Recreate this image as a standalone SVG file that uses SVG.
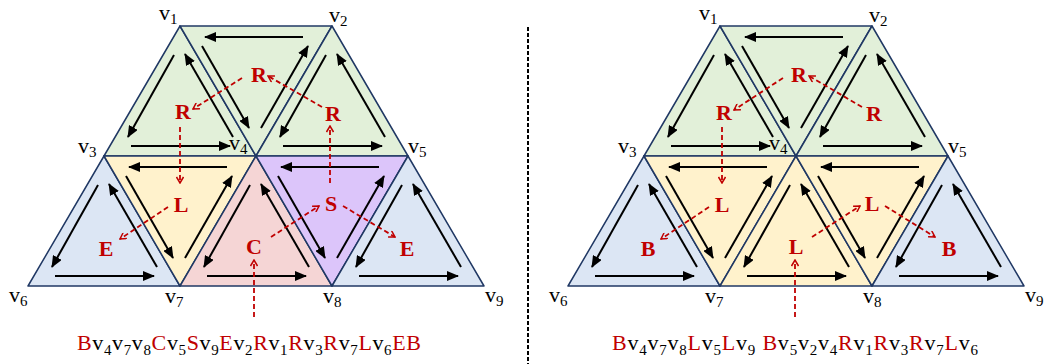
<svg xmlns="http://www.w3.org/2000/svg" xmlns:xlink="http://www.w3.org/1999/xlink" width="1044" height="364" viewBox="0 0 1044 364">
<style>
.tri{stroke:#203864;stroke-width:1.5;stroke-linejoin:round}
.g{fill:#E2F0D9}.y{fill:#FFF2CC}.b{fill:#DCE6F4}.p{fill:#F5D5D5}.u{fill:#DCC5FA}
.lab{font-family:"Liberation Serif","Times New Roman",serif;font-weight:bold;font-size:22px;fill:#C00000;text-anchor:middle}
.vx{font-family:"Liberation Serif","Times New Roman",serif;font-size:22px;fill:#000}
.vx tspan.s{font-size:15px}
.seq{font-family:"Liberation Serif","Times New Roman",serif;font-size:22px;fill:#000}
.seq tspan.s{font-size:15px}
.seq tspan.r{fill:#C00000}
.con line{stroke:#C00000;stroke-width:1.8;stroke-dasharray:5 3;marker-end:url(#rh)}
</style>
<defs>
<marker id="ah" viewBox="0 0 12 10" markerWidth="12" markerHeight="10" refX="11" refY="5" orient="auto" markerUnits="userSpaceOnUse"><path d="M0,0 L12,5 L0,10 z" fill="#000"/></marker>
<marker id="rh" viewBox="0 0 8 8" markerWidth="8" markerHeight="8" refX="7" refY="4" orient="auto" markerUnits="userSpaceOnUse"><path d="M1,0.5 L7,4 L1,7.5" fill="none" stroke="#C00000" stroke-width="1.5"/></marker>
<g id="up" stroke="#000" stroke-width="2" marker-end="url(#ah)">
<line x1="-6" y1="29" x2="-52" y2="111"/>
<line x1="-49" y1="120" x2="50" y2="120"/>
<line x1="53" y1="111" x2="5" y2="28"/>
</g>
<g id="dn" stroke="#000" stroke-width="2" marker-end="url(#ah)">
<line x1="123" y1="11" x2="25" y2="11"/>
<line x1="22" y1="20" x2="69" y2="102"/>
<line x1="81" y1="102" x2="128" y2="20"/>
</g>
</defs>
<rect width="1044" height="364" fill="#fff"/>

<!-- Left diagram -->
<g id="L-T1"><polygon class="tri g" points="180,26 104,156 256,156"/><use xlink:href="#up" href="#up" x="180" y="26"/><text class="lab" x="183" y="119">R</text></g>
<g id="L-T2"><polygon class="tri g" points="180,26 332,26 256,156"/><use xlink:href="#dn" href="#dn" x="180" y="26"/><text class="lab" x="259" y="82">R</text></g>
<g id="L-T3"><polygon class="tri g" points="332,26 256,156 408,156"/><use xlink:href="#up" href="#up" x="332" y="26"/><text class="lab" x="333" y="121">R</text></g>
<g id="L-T4"><polygon class="tri b" points="104,156 28,286 180,286"/><use xlink:href="#up" href="#up" x="104" y="156"/><text class="lab" x="106" y="256">E</text></g>
<g id="L-T5"><polygon class="tri y" points="104,156 256,156 180,286"/><use xlink:href="#dn" href="#dn" x="104" y="156"/><text class="lab" x="181" y="212">L</text></g>
<g id="L-T6"><polygon class="tri p" points="256,156 180,286 332,286"/><use xlink:href="#up" href="#up" x="256" y="156"/><text class="lab" x="254" y="254">C</text></g>
<g id="L-T7"><polygon class="tri u" points="256,156 408,156 332,286"/><use xlink:href="#dn" href="#dn" x="256" y="156"/><text class="lab" x="331" y="211">S</text></g>
<g id="L-T8"><polygon class="tri b" points="408,156 332,286 484,286"/><use xlink:href="#up" href="#up" x="408" y="156"/><text class="lab" x="407" y="256">E</text></g>

<!-- Right diagram -->
<g id="R-T1"><polygon class="tri g" points="720,26 644,156 796,156"/><use xlink:href="#up" href="#up" x="720" y="26"/><text class="lab" x="724" y="120">R</text></g>
<g id="R-T2"><polygon class="tri g" points="720,26 872,26 796,156"/><use xlink:href="#dn" href="#dn" x="720" y="26"/><text class="lab" x="799" y="82">R</text></g>
<g id="R-T3"><polygon class="tri g" points="872,26 796,156 948,156"/><use xlink:href="#up" href="#up" x="872" y="26"/><text class="lab" x="874" y="121">R</text></g>
<g id="R-T4"><polygon class="tri b" points="644,156 568,286 720,286"/><use xlink:href="#up" href="#up" x="644" y="156"/><text class="lab" x="648" y="256">B</text></g>
<g id="R-T5"><polygon class="tri y" points="644,156 796,156 720,286"/><use xlink:href="#dn" href="#dn" x="644" y="156"/><text class="lab" x="722" y="212">L</text></g>
<g id="R-T6"><polygon class="tri y" points="796,156 720,286 872,286"/><use xlink:href="#up" href="#up" x="796" y="156"/><text class="lab" x="796" y="254">L</text></g>
<g id="R-T7"><polygon class="tri y" points="796,156 948,156 872,286"/><use xlink:href="#dn" href="#dn" x="796" y="156"/><text class="lab" x="872" y="211">L</text></g>
<g id="R-T8"><polygon class="tri b" points="948,156 872,286 1024,286"/><use xlink:href="#up" href="#up" x="948" y="156"/><text class="lab" x="949" y="256">B</text></g>

<!-- connectors -->
<g id="connectors" class="con">
<line x1="242" y1="78" x2="193" y2="109"/>
<line x1="322" y1="107" x2="268" y2="76"/>
<line x1="330" y1="183" x2="330" y2="126"/>
<line x1="180" y1="127" x2="180" y2="183"/>
<line x1="168" y1="207" x2="120" y2="239"/>
<line x1="271" y1="237" x2="319" y2="206"/>
<line x1="343" y1="206" x2="395" y2="237"/>
<line x1="254" y1="317" x2="254" y2="260"/>
<line x1="783" y1="78" x2="734" y2="110"/>
<line x1="862" y1="107" x2="809" y2="76"/>
<line x1="722" y1="127" x2="722" y2="183"/>
<line x1="709" y1="207" x2="661" y2="239"/>
<line x1="812" y1="237" x2="860" y2="206"/>
<line x1="885" y1="206" x2="935" y2="237"/>
<line x1="795" y1="317" x2="795" y2="260"/>
</g>

<line id="divider" x1="528" y1="27" x2="528" y2="364" stroke="#000" stroke-width="2" stroke-dasharray="4 2"/>

<!-- vertex labels -->
<g id="vertex-labels" class="vx">
<text x="159" y="20">v<tspan class="s" dy="4">1</tspan></text>
<text x="329" y="22">v<tspan class="s" dy="4">2</tspan></text>
<text x="78" y="153">v<tspan class="s" dy="4">3</tspan></text>
<text x="229" y="150">v<tspan class="s" dy="4">4</tspan></text>
<text x="408" y="153">v<tspan class="s" dy="4">5</tspan></text>
<text x="9" y="302">v<tspan class="s" dy="4">6</tspan></text>
<text x="165" y="303">v<tspan class="s" dy="4">7</tspan></text>
<text x="323" y="303">v<tspan class="s" dy="4">8</tspan></text>
<text x="485" y="302">v<tspan class="s" dy="4">9</tspan></text>
<text x="699" y="20">v<tspan class="s" dy="4">1</tspan></text>
<text x="869" y="22">v<tspan class="s" dy="4">2</tspan></text>
<text x="618" y="153">v<tspan class="s" dy="4">3</tspan></text>
<text x="769" y="150">v<tspan class="s" dy="4">4</tspan></text>
<text x="948" y="153">v<tspan class="s" dy="4">5</tspan></text>
<text x="549" y="302">v<tspan class="s" dy="4">6</tspan></text>
<text x="705" y="303">v<tspan class="s" dy="4">7</tspan></text>
<text x="863" y="303">v<tspan class="s" dy="4">8</tspan></text>
<text x="1025" y="302">v<tspan class="s" dy="4">9</tspan></text>
</g>

<!-- sequences -->
<text id="seq-left" class="seq" x="77" y="350" textLength="344"><tspan class="r">B</tspan>v<tspan class="s" dy="5">4</tspan><tspan dy="-5">v</tspan><tspan class="s" dy="5">7</tspan><tspan dy="-5">v</tspan><tspan class="s" dy="5">8</tspan><tspan class="r" dy="-5">C</tspan>v<tspan class="s" dy="5">5</tspan><tspan class="r" dy="-5">S</tspan>v<tspan class="s" dy="5">9</tspan><tspan class="r" dy="-5">E</tspan>v<tspan class="s" dy="5">2</tspan><tspan class="r" dy="-5">R</tspan>v<tspan class="s" dy="5">1</tspan><tspan class="r" dy="-5">R</tspan>v<tspan class="s" dy="5">3</tspan><tspan class="r" dy="-5">R</tspan>v<tspan class="s" dy="5">7</tspan><tspan class="r" dy="-5">L</tspan>v<tspan class="s" dy="5">6</tspan><tspan class="r" dy="-5">EB</tspan></text>
<text id="seq-right" class="seq" x="612" y="350" textLength="366"><tspan class="r">B</tspan>v<tspan class="s" dy="5">4</tspan><tspan dy="-5">v</tspan><tspan class="s" dy="5">7</tspan><tspan dy="-5">v</tspan><tspan class="s" dy="5">8</tspan><tspan class="r" dy="-5">L</tspan>v<tspan class="s" dy="5">5</tspan><tspan class="r" dy="-5">L</tspan>v<tspan class="s" dy="5">9</tspan><tspan dy="-5"> </tspan><tspan class="r">B</tspan>v<tspan class="s" dy="5">5</tspan><tspan dy="-5">v</tspan><tspan class="s" dy="5">2</tspan><tspan dy="-5">v</tspan><tspan class="s" dy="5">4</tspan><tspan class="r" dy="-5">R</tspan>v<tspan class="s" dy="5">1</tspan><tspan class="r" dy="-5">R</tspan>v<tspan class="s" dy="5">3</tspan><tspan class="r" dy="-5">R</tspan>v<tspan class="s" dy="5">7</tspan><tspan class="r" dy="-5">L</tspan>v<tspan class="s" dy="5">6</tspan></text>
</svg>
